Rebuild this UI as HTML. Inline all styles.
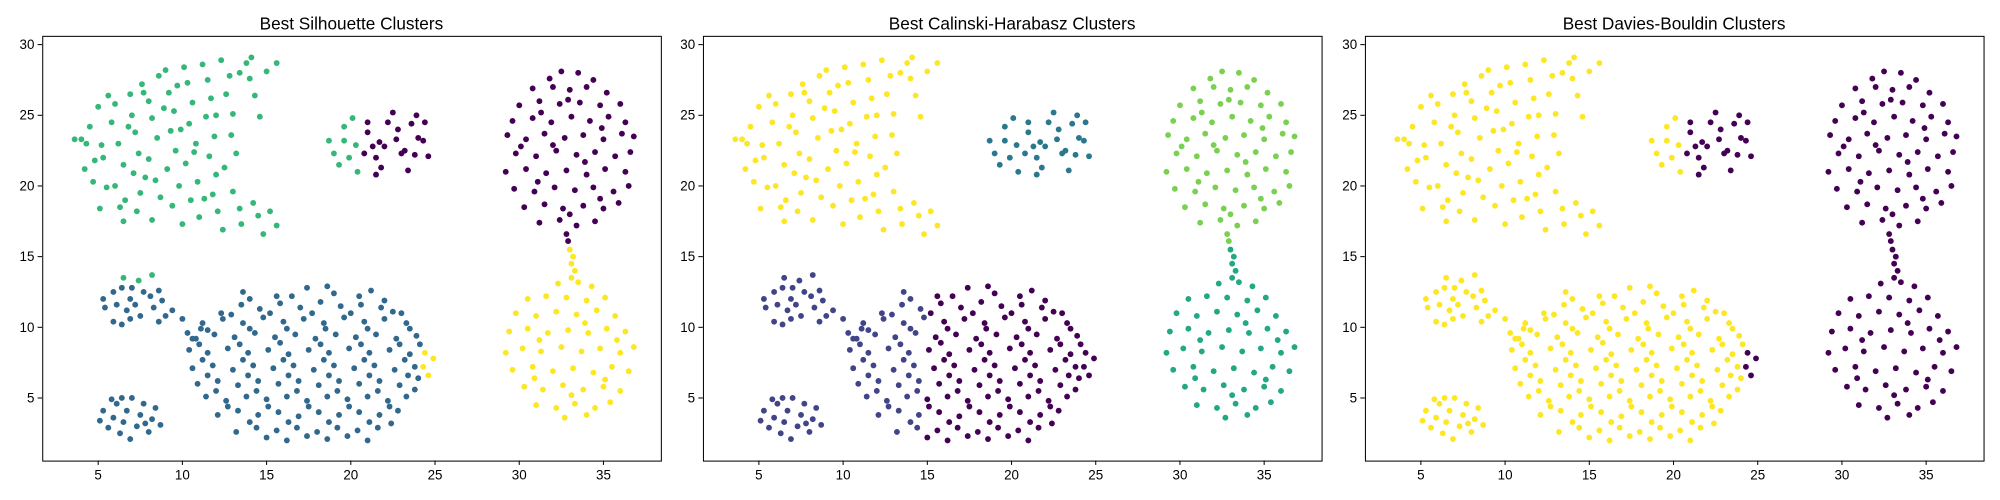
<!DOCTYPE html>
<html><head><meta charset="utf-8"><style>
html,body{margin:0;padding:0;background:#fff;}
svg{display:block;font-family:"Liberation Sans","DejaVu Sans",sans-serif;}
</style></head><body>
<svg id="c" width="2000" height="500" viewBox="0 0 1568 392" preserveAspectRatio="none"></svg>
<script>
const titles=["Best Silhouette Clusters","Best Calinski-Harabasz Clusters","Best Davies-Bouldin Clusters"];
const xTicks=[5,10,15,20,25,30,35];
const yTicks=[5,10,15,20,25,30];
const groupA=[[4,23.3],[4.5,24.2],[5,25.6],[4.8,21.8],[5.2,22.9],[4.7,20.3],[5.5,19.9],[5.3,22],[6,25.8],[5.8,24.5],[6.2,23],[6.5,21.5],[6,20],[6.3,18.5],[6.5,17.5],[6.9,26.5],[7,25],[7.2,23.8],[7.4,22.3],[7.1,20.9],[7.5,19.5],[7.3,18.2],[7.6,27.2],[8,26],[8.2,24.8],[8.5,23.4],[8,21.9],[8.4,20.4],[8.7,19.2],[8.2,17.6],[8.6,27.8],[9,28.2],[9.2,26.6],[9.5,25.3],[9.3,23.9],[9.6,22.5],[9.1,21.2],[9.8,20],[9.4,18.6],[10,17.3],[10.1,28.4],[10.3,27.3],[10.6,25.9],[10.4,24.4],[10.8,23],[10.2,21.6],[10.9,20.3],[10.5,19],[11,17.8],[11.2,28.6],[11.5,27.5],[11.7,26.2],[11.4,24.9],[11.9,23.5],[11.6,22.1],[12,20.8],[11.8,19.4],[12.1,18.2],[12.4,16.9],[12.3,28.9],[12.8,27.8],[12.6,26.5],[13,25.1],[12.9,23.6],[13.2,22.3],[13,19.6],[13.4,18.4],[13.5,17.3],[13.8,28.7],[14,27.6],[14.3,26.4],[14.6,24.9],[14.2,18.8],[14.5,17.9],[14.8,16.6],[15,28.1],[15.6,28.7],[15.2,18.2],[15.6,17.2],[14.1,29.1],[13.4,28],[12,25],[5.6,26.4],[4.3,23],[6.8,24.2],[8.9,25.5],[10.7,22.4],[9.9,24],[12.5,21.3],[11.3,19.1],[7.8,20.6],[6.6,19],[3.6,23.3],[4.2,21.2],[5.1,18.4],[7.7,26.6],[9.7,27.1]];
const groupB1=[[18.7,23.2],[19,22.3],[19.3,21.5],[19.6,24.2],[19.6,23.2],[19.9,22],[20.1,24.8],[20.3,22.9],[20.4,21.0]];
const groupB2=[[21,24.5],[21,23.8],[20.8,22.3],[21.3,22.8],[21.5,22.0],[21.7,23.1],[21.8,21.3],[22.2,24.5],[22.5,25.2],[22.8,24.0],[23,22.3],[22.7,23.3],[23.2,22.5],[23.4,21.1],[23.6,24.4],[23.9,25.0],[24.0,23.4],[24.3,23.2],[24.6,22.1],[24.4,24.5],[22,22.8],[21.5,20.8],[23.8,22.2]];
const groupC=[[32.5,28.1],[33.5,28],[31.8,27.6],[34.4,27.5],[30.8,26.9],[32,27],[33,26.8],[34,27],[35.2,26.6],[30,25.7],[31.2,26],[32.4,25.8],[33.6,25.9],[34.8,25.7],[36,25.8],[29.6,24.6],[30.8,24.8],[31.9,24.5],[33.1,24.9],[34.2,24.6],[35.3,24.9],[36.3,24.5],[29.3,23.6],[30.4,23.3],[31.5,23.7],[32.7,23.4],[33.8,23.6],[35,23.3],[36.1,23.7],[36.8,23.5],[29.8,22.3],[31,22.1],[32.2,22.5],[33.4,22.2],[34.5,22.4],[35.7,22.1],[36.6,22.4],[29.2,21],[30.4,21.2],[31.6,20.9],[32.8,21.1],[34,20.8],[35.1,21.2],[36.3,21],[29.7,19.8],[30.9,19.6],[32.1,19.9],[33.3,19.7],[34.4,19.9],[35.6,19.6],[36.5,20],[30.3,18.5],[31.5,18.7],[32.6,18.4],[33.8,18.6],[35,18.4],[35.9,18.8],[31.2,17.4],[32.4,17.6],[33.4,17.2],[34.5,17.5],[32.8,16.6],[32.9,16.1],[31.3,25.2],[32.9,26.1],[34.9,24.1],[30.1,22.8],[32,22.9],[33.9,21.7],[31.1,20.3],[34.8,19.1],[33,18]];
const groupD=[[33.0,15.5],[33.2,15.0],[33.1,14.5],[33.3,14.0],[33.1,13.5]];
const groupE=[[32.3,13.1],[33.5,13.2],[34.3,12.9],[30.5,12],[31.6,12.2],[32.8,12.1],[34,11.9],[35.1,12.1],[29.8,11],[31,10.8],[32.2,11.1],[33.4,10.9],[34.6,11.2],[35.7,10.8],[29.4,9.7],[30.5,9.9],[31.7,9.6],[32.9,9.8],[34.1,9.6],[35.2,9.9],[36.3,9.7],[29.2,8.2],[30.2,8.5],[31.3,8.3],[32.5,8.6],[33.7,8.3],[34.8,8.5],[36,8.2],[36.8,8.6],[29.6,7],[30.8,7.2],[32,6.9],[33.2,7.1],[34.4,6.8],[35.5,7.2],[36.5,6.9],[30.3,5.8],[31.4,5.6],[32.6,5.9],[33.8,5.6],[35,5.8],[36,5.5],[31,4.5],[32.2,4.3],[33.3,4.6],[34.5,4.3],[35.4,4.7],[32.7,3.6],[34,3.8],[31.2,9.1],[33.9,10.3],[35.8,9.1],[30.9,6.4],[33.1,5.2],[35.1,6.3]];
const groupF0=[[6.5,13.5],[7.4,13.3],[8.2,13.7]];
const groupF=[[5.3,12],[5.4,11.4],[5.9,12.5],[6.1,11.6],[6.4,12.8],[5.9,10.4],[6.4,10.2],[6.7,11.2],[6.9,12.0],[7,12.8],[6.9,10.6],[7.2,11.6],[7.5,10.8],[7.7,12.5],[8.1,12.2],[8.3,11.4],[8.6,10.4],[8.8,11.9],[9,10.8],[9.4,11.2],[8.6,12.6],[10,10.6],[10.3,9.6],[10.6,9.2],[11.1,9.9]];
const groupG=[[5.1,3.4],[5.3,4.1],[5.6,2.9],[5.9,3.6],[6.1,4.6],[6.3,2.5],[6.5,3.3],[6.7,4.1],[6.9,2.1],[7,5],[7.3,3.0],[7.5,3.8],[7.7,4.6],[8,2.6],[8.2,3.5],[8.4,4.3],[8.7,3.1],[6.4,5],[7.8,3.2],[5.8,4.9]];
const groupH1=[[13.6,12.5],[12.3,11],[13.5,11.6],[14.6,11.3],[11.2,10.3],[12.4,10.6],[13.6,10.3],[14.8,10.7],[10.8,9.2],[11.9,9.5],[13.1,9.3],[14.3,9.6],[10.4,8.4],[11.5,8.2],[12.7,8.5],[13.9,8.2],[10.6,7.1],[11.8,7.3],[13,7],[14.2,7.3],[10.9,6],[12.1,6.2],[13.3,5.9],[14.5,6.2],[11.4,5.1],[12.6,4.8],[13.8,5.1],[12.1,3.8],[13.3,4.1],[14.5,3.8],[13.2,2.6],[14.4,2.9],[14,12],[12.9,10.9],[11.5,9.8],[14,9.9],[11,8.8],[13.4,8.8],[11.2,7.7],[13.6,7.7],[11.5,6.6],[13.9,6.6],[12,5.5],[14.4,5.5],[12.7,4.4],[14,3.3]];
const groupH2=[[15.6,12.2],[17.4,12.8],[19,12.4],[20.5,12.2],[22,11.9],[15.8,11.7],[17,11.4],[18.2,11.8],[19.4,11.5],[20.6,11.6],[21.8,11.4],[23.0,11.0],[16,10.4],[17.2,10.6],[18.4,10.3],[19.6,10.7],[20.8,10.4],[22,10.6],[23.3,10.3],[15.5,9.3],[16.7,9.5],[17.9,9.2],[19.1,9.5],[20.3,9.3],[21.5,9.5],[22.7,9.2],[23.9,9.4],[15.1,8.4],[16.3,8.1],[17.5,8.4],[18.7,8.2],[19.9,8.5],[21.1,8.2],[22.3,8.4],[23.5,8.1],[24.1,8.8],[15.4,7.1],[16.6,7.3],[17.8,7],[19,7.3],[20.2,7.1],[21.4,7.3],[22.6,7],[23.8,7.2],[15.7,6],[16.9,6.2],[18.1,5.9],[19.3,6.2],[20.5,6],[21.7,6.2],[22.9,5.9],[24,6.4],[15,4.9],[16.2,5.1],[17.4,4.8],[18.6,5.1],[19.8,4.9],[21,5.1],[22.2,4.8],[23.3,5.1],[15.7,4],[16.9,3.7],[18.1,4],[19.3,3.8],[20.5,4],[21.7,3.8],[22.8,4.1],[15.6,2.7],[16.8,2.9],[18,2.6],[19.2,2.9],[20.4,2.7],[21.6,2.9],[15,2.2],[16.2,2],[17.4,2.3],[18.6,2.1],[19.8,2.3],[21,2],[16.5,12.2],[18.6,12.9],[21.2,12.6],[15.2,11],[17.7,11],[20,11],[22.5,11.1],[16.2,9.9],[18.5,9.9],[21,9.9],[23.5,9.9],[15.8,8.9],[18.2,8.8],[20.6,8.8],[22.9,8.8],[16,7.7],[18.4,7.7],[20.8,7.7],[23.2,7.7],[16.3,6.6],[18.7,6.6],[21.1,6.6],[23.4,6.6],[16.8,5.5],[19.2,5.5],[21.6,5.5],[23.8,5.6],[15.1,4.4],[17.5,4.4],[19.9,4.4],[22.3,4.4],[16.3,3.3],[18.7,3.3],[21.1,3.3],[22.4,3.2]];
const groupI=[[24.4,8.2],[24.9,7.8],[24.6,6.6],[24.3,7.2]];
const groups=[groupA,groupB1,groupB2,groupC,groupD,groupE,groupF0,groupF,groupG,groupH1,groupH2,groupI];
const groupNames=["moon","small-left","small-right","top-circle","bridge","bottom-circle","left-top","left-cluster","corner-cluster","blob-left","blob-right","stragglers"];
const labels1=[2,2,0,0,3,3,2,1,1,1,1,3];
const labels2=[5,2,2,4,3,3,1,1,1,1,0,0];
const labels3=[1,1,0,0,0,0,1,1,1,1,1,0];
const palette1=["#440154","#31688e","#35b779","#fde725"];
const palette2=["#440154","#414487","#2a788e","#22a884","#7ad151","#fde725"];
const palette3=["#440154","#fde725"];
const panels=[{left:33,labels:labels1,pal:palette1},{left:551,labels:labels2,pal:palette2},{left:1070,labels:labels3,pal:palette3}];
const PW=485,topY=28,PH=333,xMin=1.67,xMax=38.4,yMin=0.58,yMax=30.63;
const NS="http://www.w3.org/2000/svg";
const svgEl=document.getElementById('c');
function mk(t,a,p){const e=document.createElementNS(NS,t);for(const k in a)e.setAttribute(k,a[k]);(p||svgEl).appendChild(e);return e;}
panels.forEach((p,pi)=>{
  const g=mk('g',{});
  
  
  const sx=v=>p.left+(v-xMin)/(xMax-xMin)*PW;
  const sy=v=>topY+PH-(v-yMin)/(yMax-yMin)*PH;
  const t=mk('text',{x:p.left+PW/2,y:23,'text-anchor':'middle','font-size':'13.5',fill:'#000'},g);
  t.textContent=titles[pi];
  
  
  const pts=mk('g',{},g);
  
  
  groups.forEach((grp,gi)=>{
    grp.forEach(pt=>{
      const c=mk('circle',{cx:sx(pt[0]).toFixed(1),cy:sy(pt[1]).toFixed(1),r:2.3,fill:p.pal[p.labels[gi]]},pts);
      
      
    });
  });
  const fr=mk('rect',{x:p.left+0.5,y:topY+0.5,width:PW,height:PH,fill:'none',stroke:'#000','stroke-width':0.8},g);
  
  
  xTicks.forEach(v=>{
    const x=sx(v);
    mk('line',{x1:x,x2:x,y1:topY+PH,y2:topY+PH+3.5,stroke:'#000','stroke-width':0.8},g);
    const l=mk('text',{x:x,y:topY+PH+15,'text-anchor':'middle','font-size':'10.5',fill:'#000'},g);
    l.textContent=v;
    
    
  });
  yTicks.forEach(v=>{
    const y=sy(v);
    mk('line',{x1:p.left-3.5,x2:p.left,y1:y,y2:y,stroke:'#000','stroke-width':0.8},g);
    const l=mk('text',{x:p.left-6,y:y+3.5,'text-anchor':'end','font-size':'10.5',fill:'#000'},g);
    l.textContent=v;
    
    
  });
});
</script>
</body></html>
